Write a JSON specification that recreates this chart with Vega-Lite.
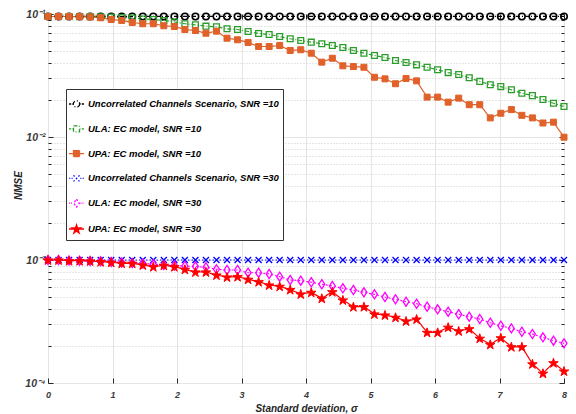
{
  "$schema": "https://vega.github.io/schema/vega-lite/v6.json",
  "width": 516,
  "height": 369,
  "autosize": "none",
  "padding": {"left": 48, "top": 14, "right": 12, "bottom": 31},
  "background": "white",
  "data": {
    "values": [
      {"k":"u10","x":0,"y":0.0955},{"k":"u10","x":0.1633,"y":0.0955},{"k":"u10","x":0.3265,"y":0.0955},{"k":"u10","x":0.4898,"y":0.0955},{"k":"u10","x":0.6531,"y":0.0955},{"k":"u10","x":0.8163,"y":0.0955},{"k":"u10","x":0.9796,"y":0.0955},{"k":"u10","x":1.1429,"y":0.0955},{"k":"u10","x":1.3061,"y":0.0955},{"k":"u10","x":1.4694,"y":0.0955},
      {"k":"u10","x":1.6327,"y":0.0955},{"k":"u10","x":1.7959,"y":0.0955},{"k":"u10","x":1.9592,"y":0.0955},{"k":"u10","x":2.1224,"y":0.0955},{"k":"u10","x":2.2857,"y":0.0955},{"k":"u10","x":2.449,"y":0.0955},{"k":"u10","x":2.6122,"y":0.0955},{"k":"u10","x":2.7755,"y":0.0955},{"k":"u10","x":2.9388,"y":0.0955},{"k":"u10","x":3.102,"y":0.0955},
      {"k":"u10","x":3.2653,"y":0.0955},{"k":"u10","x":3.4286,"y":0.0955},{"k":"u10","x":3.5918,"y":0.0955},{"k":"u10","x":3.7551,"y":0.0955},{"k":"u10","x":3.9184,"y":0.0955},{"k":"u10","x":4.0816,"y":0.0955},{"k":"u10","x":4.2449,"y":0.0955},{"k":"u10","x":4.4082,"y":0.0955},{"k":"u10","x":4.5714,"y":0.0955},{"k":"u10","x":4.7347,"y":0.0955},
      {"k":"u10","x":4.898,"y":0.0955},{"k":"u10","x":5.0612,"y":0.0955},{"k":"u10","x":5.2245,"y":0.0955},{"k":"u10","x":5.3878,"y":0.0955},{"k":"u10","x":5.551,"y":0.0955},{"k":"u10","x":5.7143,"y":0.0955},{"k":"u10","x":5.8776,"y":0.0955},{"k":"u10","x":6.0408,"y":0.0955},{"k":"u10","x":6.2041,"y":0.0955},{"k":"u10","x":6.3673,"y":0.0955},
      {"k":"u10","x":6.5306,"y":0.0955},{"k":"u10","x":6.6939,"y":0.0955},{"k":"u10","x":6.8571,"y":0.0955},{"k":"u10","x":7.0204,"y":0.0955},{"k":"u10","x":7.1837,"y":0.0955},{"k":"u10","x":7.3469,"y":0.0955},{"k":"u10","x":7.5102,"y":0.0955},{"k":"u10","x":7.6735,"y":0.0955},{"k":"u10","x":7.8367,"y":0.0955},{"k":"u10","x":8,"y":0.0955},

      {"k":"ula10","x":0,"y":0.0954},{"k":"ula10","x":0.1633,"y":0.0954},{"k":"ula10","x":0.3265,"y":0.0954},{"k":"ula10","x":0.4898,"y":0.0954},{"k":"ula10","x":0.6531,"y":0.0954},{"k":"ula10","x":0.8163,"y":0.095},{"k":"ula10","x":0.9796,"y":0.0945},{"k":"ula10","x":1.1429,"y":0.0937},{"k":"ula10","x":1.3061,"y":0.0928},{"k":"ula10","x":1.4694,"y":0.0911},
      {"k":"ula10","x":1.6327,"y":0.0902},{"k":"ula10","x":1.7959,"y":0.0886},{"k":"ula10","x":1.9592,"y":0.0861},{"k":"ula10","x":2.1224,"y":0.0833},{"k":"ula10","x":2.2857,"y":0.0817},{"k":"ula10","x":2.449,"y":0.0796},{"k":"ula10","x":2.6122,"y":0.0787},{"k":"ula10","x":2.7755,"y":0.0758},{"k":"ula10","x":2.9388,"y":0.0748},{"k":"ula10","x":3.102,"y":0.0721},
      {"k":"ula10","x":3.2653,"y":0.0694},{"k":"ula10","x":3.4286,"y":0.0681},{"k":"ula10","x":3.5918,"y":0.0656},{"k":"ula10","x":3.7551,"y":0.0629},{"k":"ula10","x":3.9184,"y":0.0609},{"k":"ula10","x":4.0816,"y":0.059},{"k":"ula10","x":4.2449,"y":0.0573},{"k":"ula10","x":4.4082,"y":0.0554},{"k":"ula10","x":4.5714,"y":0.0534},{"k":"ula10","x":4.7347,"y":0.0505},
      {"k":"ula10","x":4.898,"y":0.048},{"k":"ula10","x":5.0612,"y":0.046},{"k":"ula10","x":5.2245,"y":0.0443},{"k":"ula10","x":5.3878,"y":0.0419},{"k":"ula10","x":5.551,"y":0.0403},{"k":"ula10","x":5.7143,"y":0.0386},{"k":"ula10","x":5.8776,"y":0.0369},{"k":"ula10","x":6.0408,"y":0.0352},{"k":"ula10","x":6.2041,"y":0.0334},{"k":"ula10","x":6.3673,"y":0.0322},
      {"k":"ula10","x":6.5306,"y":0.0303},{"k":"ula10","x":6.6939,"y":0.0283},{"k":"ula10","x":6.8571,"y":0.0266},{"k":"ula10","x":7.0204,"y":0.0257},{"k":"ula10","x":7.1837,"y":0.0242},{"k":"ula10","x":7.3469,"y":0.0227},{"k":"ula10","x":7.5102,"y":0.0217},{"k":"ula10","x":7.6735,"y":0.0202},{"k":"ula10","x":7.8367,"y":0.0188},{"k":"ula10","x":8,"y":0.0177},

      {"k":"upa10","x":0,"y":0.0954},{"k":"upa10","x":0.1633,"y":0.0954},{"k":"upa10","x":0.3265,"y":0.0954},{"k":"upa10","x":0.4898,"y":0.095},{"k":"upa10","x":0.6531,"y":0.0945},{"k":"upa10","x":0.8163,"y":0.0932},{"k":"upa10","x":0.9796,"y":0.0902},{"k":"upa10","x":1.1429,"y":0.0886},{"k":"upa10","x":1.3061,"y":0.0853},{"k":"upa10","x":1.4694,"y":0.0833},
      {"k":"upa10","x":1.6327,"y":0.0833},{"k":"upa10","x":1.7959,"y":0.0802},{"k":"upa10","x":1.9592,"y":0.0791},{"k":"upa10","x":2.1224,"y":0.0748},{"k":"upa10","x":2.2857,"y":0.0734},{"k":"upa10","x":2.449,"y":0.0698},{"k":"upa10","x":2.6122,"y":0.0725},{"k":"upa10","x":2.7755,"y":0.0636},{"k":"upa10","x":2.9388,"y":0.0617},{"k":"upa10","x":3.102,"y":0.0587},
      {"k":"upa10","x":3.2653,"y":0.0544},{"k":"upa10","x":3.4286,"y":0.0544},{"k":"upa10","x":3.5918,"y":0.0554},{"k":"upa10","x":3.7551,"y":0.0505},{"k":"upa10","x":3.9184,"y":0.0512},{"k":"upa10","x":4.0816,"y":0.048},{"k":"upa10","x":4.2449,"y":0.0406},{"k":"upa10","x":4.4082,"y":0.0437},{"k":"upa10","x":4.5714,"y":0.0379},{"k":"upa10","x":4.7347,"y":0.0374},
      {"k":"upa10","x":4.898,"y":0.0369},{"k":"upa10","x":5.0612,"y":0.0306},{"k":"upa10","x":5.2245,"y":0.0297},{"k":"upa10","x":5.3878,"y":0.0271},{"k":"upa10","x":5.551,"y":0.0299},{"k":"upa10","x":5.7143,"y":0.0286},{"k":"upa10","x":5.8776,"y":0.0211},{"k":"upa10","x":6.0408,"y":0.0211},{"k":"upa10","x":6.2041,"y":0.0192},{"k":"upa10","x":6.3673,"y":0.0207},
      {"k":"upa10","x":6.5306,"y":0.0183},{"k":"upa10","x":6.6939,"y":0.0183},{"k":"upa10","x":6.8571,"y":0.0143},{"k":"upa10","x":7.0204,"y":0.0156},{"k":"upa10","x":7.1837,"y":0.0167},{"k":"upa10","x":7.3469,"y":0.015},{"k":"upa10","x":7.5102,"y":0.0143},{"k":"upa10","x":7.6735,"y":0.013},{"k":"upa10","x":7.8367,"y":0.0132},{"k":"upa10","x":8,"y":0.00996},

      {"k":"u30","x":0,"y":0.001},{"k":"u30","x":0.1633,"y":0.001},{"k":"u30","x":0.3265,"y":0.001},{"k":"u30","x":0.4898,"y":0.001},{"k":"u30","x":0.6531,"y":0.001},{"k":"u30","x":0.8163,"y":0.001},{"k":"u30","x":0.9796,"y":0.001},{"k":"u30","x":1.1429,"y":0.001},{"k":"u30","x":1.3061,"y":0.001},{"k":"u30","x":1.4694,"y":0.001},
      {"k":"u30","x":1.6327,"y":0.001},{"k":"u30","x":1.7959,"y":0.001},{"k":"u30","x":1.9592,"y":0.001},{"k":"u30","x":2.1224,"y":0.001},{"k":"u30","x":2.2857,"y":0.001},{"k":"u30","x":2.449,"y":0.001},{"k":"u30","x":2.6122,"y":0.001},{"k":"u30","x":2.7755,"y":0.001},{"k":"u30","x":2.9388,"y":0.001},{"k":"u30","x":3.102,"y":0.001},
      {"k":"u30","x":3.2653,"y":0.001},{"k":"u30","x":3.4286,"y":0.001},{"k":"u30","x":3.5918,"y":0.001},{"k":"u30","x":3.7551,"y":0.001},{"k":"u30","x":3.9184,"y":0.001},{"k":"u30","x":4.0816,"y":0.001},{"k":"u30","x":4.2449,"y":0.001},{"k":"u30","x":4.4082,"y":0.001},{"k":"u30","x":4.5714,"y":0.001},{"k":"u30","x":4.7347,"y":0.001},
      {"k":"u30","x":4.898,"y":0.001},{"k":"u30","x":5.0612,"y":0.001},{"k":"u30","x":5.2245,"y":0.001},{"k":"u30","x":5.3878,"y":0.001},{"k":"u30","x":5.551,"y":0.001},{"k":"u30","x":5.7143,"y":0.001},{"k":"u30","x":5.8776,"y":0.001},{"k":"u30","x":6.0408,"y":0.001},{"k":"u30","x":6.2041,"y":0.001},{"k":"u30","x":6.3673,"y":0.001},
      {"k":"u30","x":6.5306,"y":0.001},{"k":"u30","x":6.6939,"y":0.001},{"k":"u30","x":6.8571,"y":0.001},{"k":"u30","x":7.0204,"y":0.001},{"k":"u30","x":7.1837,"y":0.001},{"k":"u30","x":7.3469,"y":0.001},{"k":"u30","x":7.5102,"y":0.001},{"k":"u30","x":7.6735,"y":0.001},{"k":"u30","x":7.8367,"y":0.001},{"k":"u30","x":8,"y":0.001},

      {"k":"ula30","x":0,"y":0.001},{"k":"ula30","x":0.1633,"y":0.001},{"k":"ula30","x":0.3265,"y":0.00099},{"k":"ula30","x":0.4898,"y":0.000987},{"k":"ula30","x":0.6531,"y":0.000981},{"k":"ula30","x":0.8163,"y":0.000976},{"k":"ula30","x":0.9796,"y":0.000963},{"k":"ula30","x":1.1429,"y":0.000954},{"k":"ula30","x":1.3061,"y":0.000945},{"k":"ula30","x":1.4694,"y":0.000935},
      {"k":"ula30","x":1.6327,"y":0.000923},{"k":"ula30","x":1.7959,"y":0.000911},{"k":"ula30","x":1.9592,"y":0.000902},{"k":"ula30","x":2.1224,"y":0.000894},{"k":"ula30","x":2.2857,"y":0.000885},{"k":"ula30","x":2.449,"y":0.000872},{"k":"ula30","x":2.6122,"y":0.00084},{"k":"ula30","x":2.7755,"y":0.000829},{"k":"ula30","x":2.9388,"y":0.000829},{"k":"ula30","x":3.102,"y":0.000788},
      {"k":"ula30","x":3.2653,"y":0.000788},{"k":"ula30","x":3.4286,"y":0.00077},{"k":"ula30","x":3.5918,"y":0.000732},{"k":"ula30","x":3.7551,"y":0.000688},{"k":"ula30","x":3.9184,"y":0.000679},{"k":"ula30","x":4.0816,"y":0.000659},{"k":"ula30","x":4.2449,"y":0.000635},{"k":"ula30","x":4.4082,"y":0.000615},{"k":"ula30","x":4.5714,"y":0.000589},{"k":"ula30","x":4.7347,"y":0.00057},
      {"k":"ula30","x":4.898,"y":0.000546},{"k":"ula30","x":5.0612,"y":0.000526},{"k":"ula30","x":5.2245,"y":0.0005},{"k":"ula30","x":5.3878,"y":0.000479},{"k":"ula30","x":5.551,"y":0.000458},{"k":"ula30","x":5.7143,"y":0.000441},{"k":"ula30","x":5.8776,"y":0.000417},{"k":"ula30","x":6.0408,"y":0.000397},{"k":"ula30","x":6.2041,"y":0.00038},{"k":"ula30","x":6.3673,"y":0.000362},
      {"k":"ula30","x":6.5306,"y":0.000346},{"k":"ula30","x":6.6939,"y":0.000331},{"k":"ula30","x":6.8571,"y":0.000309},{"k":"ula30","x":7.0204,"y":0.000292},{"k":"ula30","x":7.1837,"y":0.000278},{"k":"ula30","x":7.3469,"y":0.000261},{"k":"ula30","x":7.5102,"y":0.00025},{"k":"ula30","x":7.6735,"y":0.000235},{"k":"ula30","x":7.8367,"y":0.000221},{"k":"ula30","x":8,"y":0.00021},

      {"k":"upa30","x":0,"y":0.001},{"k":"upa30","x":0.1633,"y":0.001},{"k":"upa30","x":0.3265,"y":0.000987},{"k":"upa30","x":0.4898,"y":0.000987},{"k":"upa30","x":0.6531,"y":0.000981},{"k":"upa30","x":0.8163,"y":0.000969},{"k":"upa30","x":0.9796,"y":0.000958},{"k":"upa30","x":1.1429,"y":0.00094},{"k":"upa30","x":1.3061,"y":0.00094},{"k":"upa30","x":1.4694,"y":0.000911},
      {"k":"upa30","x":1.6327,"y":0.000882},{"k":"upa30","x":1.7959,"y":0.000906},{"k":"upa30","x":1.9592,"y":0.000882},{"k":"upa30","x":2.1224,"y":0.00084},{"k":"upa30","x":2.2857,"y":0.000799},{"k":"upa30","x":2.449,"y":0.000799},{"k":"upa30","x":2.6122,"y":0.000755},{"k":"upa30","x":2.7755,"y":0.000727},{"k":"upa30","x":2.9388,"y":0.000732},{"k":"upa30","x":3.102,"y":0.000697},
      {"k":"upa30","x":3.2653,"y":0.000666},{"k":"upa30","x":3.4286,"y":0.000626},{"k":"upa30","x":3.5918,"y":0.000611},{"k":"upa30","x":3.7551,"y":0.000575},{"k":"upa30","x":3.9184,"y":0.000529},{"k":"upa30","x":4.0816,"y":0.000546},{"k":"upa30","x":4.2449,"y":0.000488},{"k":"upa30","x":4.4082,"y":0.000552},{"k":"upa30","x":4.5714,"y":0.000473},{"k":"upa30","x":4.7347,"y":0.000417},
      {"k":"upa30","x":4.898,"y":0.000417},{"k":"upa30","x":5.0612,"y":0.000364},{"k":"upa30","x":5.2245,"y":0.000357},{"k":"upa30","x":5.3878,"y":0.000342},{"k":"upa30","x":5.551,"y":0.000319},{"k":"upa30","x":5.7143,"y":0.000331},{"k":"upa30","x":5.8776,"y":0.000258},{"k":"upa30","x":6.0408,"y":0.000258},{"k":"upa30","x":6.2041,"y":0.000284},{"k":"upa30","x":6.3673,"y":0.000265},
      {"k":"upa30","x":6.5306,"y":0.000276},{"k":"upa30","x":6.6939,"y":0.000231},{"k":"upa30","x":6.8571,"y":0.000206},{"k":"upa30","x":7.0204,"y":0.000233},{"k":"upa30","x":7.1837,"y":0.000197},{"k":"upa30","x":7.3469,"y":0.000197},{"k":"upa30","x":7.5102,"y":0.000143},{"k":"upa30","x":7.6735,"y":0.00012},{"k":"upa30","x":7.8367,"y":0.000146},{"k":"upa30","x":8,"y":0.000125}
    ]
  },
  "encoding": {
    "x": {"field": "x", "type": "quantitative", "scale": {"domain": [0, 8], "nice": false, "zero": false}, "axis": null},
    "y": {"field": "y", "type": "quantitative", "scale": {"type": "log", "domain": [0.0001, 0.1], "nice": false}, "axis": null}
  },
  "layer": [
    {
      "transform": [{"filter": "datum.x === 0"}],
      "mark": {"type": "point", "clip": true, "size": 4, "strokeWidth": 1.3, "opacity": 1},
      "encoding": {
        "x": {
          "field": "x", "type": "quantitative",
          "scale": {"domain": [0, 8], "nice": false, "zero": false},
          "axis": {"orient": "top", "values": [0, 1, 2, 3, 4, 5, 6, 7, 8], "labels": false, "tickSize": -5, "grid": false, "domain": false, "title": null}
        },
        "y": {
          "field": "y", "type": "quantitative",
          "scale": {"type": "log", "domain": [0.0001, 0.1], "nice": false},
          "axis": {
            "orient": "right",
            "values": [0.0001,0.0002,0.0003,0.0004,0.0005,0.0006,0.0007,0.0008,0.0009,0.001,0.002,0.003,0.004,0.005,0.006,0.007,0.008,0.009,0.01,0.02,0.03,0.04,0.05,0.06,0.07,0.08,0.09,0.1],
            "labels": false, "grid": false, "domain": false, "title": null,
            "tickSize": {"condition": {"test": "abs(log(datum.value)/LN10 - round(log(datum.value)/LN10)) < 0.001", "value": -5}, "value": -3}
          }
        },
        "shape": {
          "field": "k", "type": "nominal",
          "scale": {
            "domain": ["u10", "ula10", "upa10", "u30", "ula30", "upa30"],
            "range": [
              "M-1.2,0H-1.0M-0.92,0H-0.86M-0.13,0A0.32,0.32,0,1,1,-0.77,0A0.32,0.32,0,1,1,-0.13,0ZM-0.04,0H0.02M0.1,0H0.3",
              "M-1.2,0H-1.0M-0.92,0H-0.86M-0.75,-0.3H-0.15V0.3H-0.75ZM-0.04,0H0.02M0.1,0H0.3",
              "M-1.2,0H-0.75M-0.75,-0.3H-0.15V0.3H-0.75ZM-0.15,0H0.3",
              "M-1.2,0H-1.13M-1.03,0H-0.96M-0.86,0H-0.8M-0.75,-0.3L-0.15,0.3M-0.75,0.3L-0.15,-0.3M-0.1,0H-0.04M0.06,0H0.13M0.23,0H0.3",
              "M-1.2,0H-1.1M-1.0,0H-0.9M-0.45,-0.4L-0.17,0L-0.45,0.4L-0.73,0ZM-0.05,0H0.05M0.15,0H0.25",
              "M-1.2,0H0.3M-0.45,-0.41L-0.349,-0.1L-0.022,-0.1L-0.287,0.092L-0.185,0.404L-0.45,0.212L-0.715,0.404L-0.613,0.092L-0.878,-0.1L-0.551,-0.1Z"
            ]
          },
          "legend": {
            "title": null, "orient": "none", "legendX": 18, "legendY": 75,
            "labelExpr": "datum.label === 'u10' ? 'Uncorrelated Channels Scenario, SNR =10' : datum.label === 'ula10' ? 'ULA: EC model, SNR =10' : datum.label === 'upa10' ? 'UPA: EC model, SNR =10' : datum.label === 'u30' ? 'Uncorrelated Channels Scenario, SNR =30' : datum.label === 'ula30' ? 'ULA: EC model, SNR =30' : 'UPA: EC model, SNR =30'",
            "symbolOpacity": 1, "symbolDash": [1, 0], "rowPadding": 7.8,
            "encode": {"symbols": {"strokeDash": {"value": [1, 0]}, "opacity": {"value": 1}}}
          }
        },
        "stroke": {
          "field": "k", "type": "nominal",
          "scale": {"domain": ["u10", "ula10", "upa10", "u30", "ula30", "upa30"], "range": ["#000000", "#2a9d2a", "#e0612a", "#0000ff", "#ff00ff", "#ff0000"]}
        },
        "fill": {
          "field": "k", "type": "nominal",
          "scale": {"domain": ["u10", "ula10", "upa10", "u30", "ula30", "upa30"], "range": ["transparent", "transparent", "#e0612a", "transparent", "transparent", "#ff0000"]}
        }
      }
    },
    {
      "mark": {"type": "line", "strokeWidth": 1.2},
      "encoding": {
        "x": {
          "field": "x", "type": "quantitative",
          "scale": {"domain": [0, 8], "nice": false, "zero": false},
          "axis": {
            "orient": "bottom", "values": [0, 1, 2, 3, 4, 5, 6, 7, 8], "format": "d",
            "labelFlush": false, "tickSize": -5, "labelPadding": 12, "domain": false,
            "grid": true, "gridColor": "#e4e4e4",
            "title": "Standard deviation, σ", "titleY": 25, "titleBaseline": "middle"
          }
        },
        "y": {
          "field": "y", "type": "quantitative",
          "scale": {"type": "log", "domain": [0.0001, 0.1], "nice": false},
          "axis": {
            "orient": "left",
            "values": [0.0001,0.0002,0.0003,0.0004,0.0005,0.0006,0.0007,0.0008,0.0009,0.001,0.002,0.003,0.004,0.005,0.006,0.007,0.008,0.009,0.01,0.02,0.03,0.04,0.05,0.06,0.07,0.08,0.09,0.1],
            "labelExpr": "abs(datum.value-0.1)<1e-9 ? '10⁻¹' : abs(datum.value-0.01)<1e-10 ? '10⁻²' : abs(datum.value-0.001)<1e-11 ? '10⁻³' : abs(datum.value-0.0001)<1e-12 ? '10⁻⁴' : ''",
            "labelOverlap": false, "labelFlush": false, "labelPadding": 8, "labelFontSize": 10.5, "domain": false,
            "tickSize": {"condition": {"test": "abs(log(datum.value)/LN10 - round(log(datum.value)/LN10)) < 0.001", "value": -5}, "value": -3},
            "grid": true,
            "gridDash": {"condition": {"test": "abs(log(datum.value)/LN10 - round(log(datum.value)/LN10)) < 0.001", "value": []}, "value": [1, 2]},
            "gridColor": {"condition": {"test": "abs(log(datum.value)/LN10 - round(log(datum.value)/LN10)) < 0.001", "value": "#e4e4e4"}, "value": "#cccccc"},
            "title": "NMSE", "titleX": -30, "titleY": 171, "titleBaseline": "middle", "titleAlign": "center"
          }
        },
        "color": {
          "field": "k", "type": "nominal", "legend": null,
          "scale": {"domain": ["u10", "ula10", "upa10", "u30", "ula30", "upa30"], "range": ["#000000", "#2a9d2a", "#e0612a", "#0000ff", "#ff00ff", "#ff0000"]}
        },
        "strokeDash": {
          "field": "k", "type": "nominal", "legend": null,
          "scale": {"domain": ["u10", "ula10", "upa10", "u30", "ula30", "upa30"], "range": [[4, 2, 1, 2], [4, 2, 1, 2], [1, 0], [1.5, 2], [2, 2], [1, 0]]}
        }
      }
    },
    {
      "transform": [{"filter": "datum.k === 'u10'"}],
      "mark": {"type": "point", "shape": "circle", "size": 42, "filled": false, "stroke": "#000000", "strokeWidth": 1.6, "opacity": 1}
    },
    {
      "transform": [{"filter": "datum.k === 'ula10'"}],
      "mark": {"type": "point", "shape": "square", "size": 34, "filled": false, "stroke": "#2a9d2a", "strokeWidth": 1.3, "opacity": 1}
    },
    {
      "transform": [{"filter": "datum.k === 'upa10'"}],
      "mark": {"type": "point", "shape": "square", "size": 36, "filled": true, "fill": "#e0612a", "stroke": "#e0612a", "strokeWidth": 1, "opacity": 1}
    },
    {
      "transform": [{"filter": "datum.k === 'u30'"}],
      "mark": {"type": "point", "shape": "M-1,-1L1,1M-1,1L1,-1", "size": 36, "filled": false, "stroke": "#0000ff", "strokeWidth": 1.3, "opacity": 1}
    },
    {
      "transform": [{"filter": "datum.k === 'ula30'"}],
      "mark": {"type": "point", "shape": "M0,-1.3L0.85,0L0,1.3L-0.85,0Z", "size": 49, "filled": false, "stroke": "#ff00ff", "strokeWidth": 1.3, "opacity": 1}
    },
    {
      "transform": [{"filter": "datum.k === 'upa30'"}],
      "mark": {"type": "point", "shape": "M0,-0.905L0.2245,-0.214L0.9511,-0.214L0.3633,0.213L0.5878,0.904L0,0.477L-0.5878,0.904L-0.3633,0.213L-0.9511,-0.214L-0.2245,-0.214Z", "size": 100, "filled": true, "fill": "#ff0000", "stroke": "#ff0000", "strokeWidth": 1, "opacity": 1}
    }
  ],
  "resolve": {"axis": {"x": "independent", "y": "independent"}},
  "config": {
    "font": "Liberation Sans",
    "view": {"stroke": "#262626", "strokeWidth": 1},
    "axis": {
      "labelFont": "Liberation Sans", "labelFontSize": 9, "labelFontStyle": "italic", "labelFontWeight": "bold", "labelColor": "#3a3a3a",
      "titleFont": "Liberation Sans", "titleFontSize": 10, "titleFontStyle": "italic", "titleFontWeight": "bold", "titleColor": "#262626",
      "tickColor": "#262626", "tickWidth": 1, "domainColor": "#262626"
    },
    "legend": {
      "fillColor": "white", "strokeColor": "#333333", "padding": 4,
      "symbolSize": 400, "symbolStrokeWidth": 1.3, "symbolOpacity": 1, "symbolDash": [1, 0],
      "rowPadding": 7.8,
      "labelFont": "Liberation Sans", "labelFontSize": 9.5, "labelFontStyle": "italic", "labelFontWeight": "bold",
      "labelColor": "#000000", "labelLimit": 400, "labelOffset": -4
    }
  }
}
